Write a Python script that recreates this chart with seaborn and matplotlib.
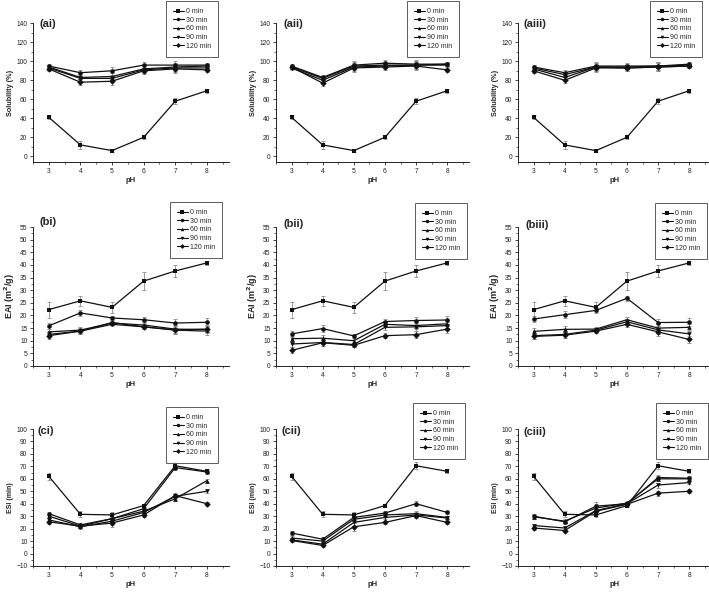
import matplotlib
matplotlib.use("Agg")
import matplotlib.pyplot as plt
import numpy as np
import pandas as pd
import seaborn as sns
from matplotlib.lines import Line2D
from matplotlib.ticker import MultipleLocator

sns.set_theme(style="ticks")
plt.rcParams['font.family'] = ['Liberation Sans', 'DejaVu Sans']

ph = [3, 4, 5, 6, 7, 8]
times = ["0 min", "30 min", "60 min", "90 min", "120 min"]
markers = ["s", "o", "^", "v", "D"]

# Solubility (%)
sol_0 = [41, 12, 6, 20, 58, 69]
sol_0_err = [2, 4, 1, 2, 3, 2]
sol_i = [sol_0,
         [95, 88, 90, 96, 96, 96],
         [94, 83, 84, 92, 94, 95],
         [93, 82, 82, 91, 93, 93],
         [92, 78, 79, 90, 92, 91]]
sol_ii = [sol_0,
          [95, 83, 96, 98, 97, 97],
          [94, 82, 95, 96, 96, 97],
          [93, 80, 94, 95, 96, 96],
          [94, 77, 93, 94, 95, 91]]
sol_iii = [sol_0,
           [94, 88, 95, 95, 95, 97],
           [93, 86, 94, 94, 95, 96],
           [92, 83, 94, 93, 94, 95],
           [90, 80, 93, 93, 94, 95]]
sol_err = [2, 3, 4, 3, 4, 2]

# EAI (m2/g)
eai_0 = [22.3, 25.8, 23.2, 33.6, 37.6, 40.8]
eai_0_err = [3.2, 2.0, 2.2, 3.5, 2.3, 0.8]
eai_i = [eai_0,
         [15.9, 21.0, 19.0, 18.3, 17.0, 17.3],
         [13.5, 14.2, 17.0, 16.2, 14.6, 14.4],
         [12.5, 13.8, 16.5, 15.5, 14.2, 13.8],
         [12.0, 13.8, 17.2, 15.5, 14.3, 14.6]]
eai_ii = [eai_0,
          [12.7, 14.8, 11.9, 17.6, 18.0, 18.2],
          [10.8, 11.0, 10.0, 16.5, 16.0, 16.7],
          [8.7, 9.3, 8.5, 15.3, 15.5, 16.0],
          [6.2, 9.2, 8.2, 12.0, 12.4, 14.6]]
eai_iii = [eai_0,
           [18.6, 20.3, 22.0, 26.8, 17.2, 17.3],
           [13.7, 14.5, 14.6, 18.3, 15.0, 15.3],
           [12.0, 12.5, 14.2, 17.5, 14.3, 12.7],
           [11.7, 12.2, 13.8, 16.5, 13.5, 10.5]]
eai_err = [1.2, 1.3, 0.8, 1.0, 1.5, 1.5]

# ESI (min)
esi_0 = [62, 31.5, 31, 38.5, 70.5, 66]
esi_0_err = [3, 2.5, 2, 1.5, 3, 1.5]
esi_i = [esi_0,
         [32, 23, 28, 36, 69, 65.5],
         [30, 22, 28, 34, 44, 58.5],
         [27, 21.5, 26, 33, 46, 50],
         [25.5, 22, 24.5, 31, 46.5, 40]]
esi_ii = [esi_0,
          [16.5, 11.5, 29, 32.5, 40, 33],
          [12.5, 10, 27.5, 31, 32, 29],
          [11, 7.5, 25, 29, 31, 28.5],
          [10.5, 6.5, 21.5, 25, 30.5, 25]]
esi_iii = [esi_0,
           [30, 25.5, 38, 40, 61, 60.5],
           [29.5, 26, 36.5, 40.5, 60, 60],
           [22.5, 20.5, 34.5, 40, 55, 57],
           [20.5, 18.5, 34, 39.5, 48.5, 50]]
esi_err = [1.5, 1.5, 3, 1.5, 2, 1.5]

W, H = 709, 592
fig = plt.figure(figsize=(W / 100, H / 100), dpi=100)

col_left = [33, 276, 518]
col_width = [196, 193, 193]
rows = [(23.3, 162), (227, 366), (429, 566)]

panels = [
    [("(ai)", sol_i), ("(aii)", sol_ii), ("(aiii)", sol_iii)],
    [("(bi)", eai_i), ("(bii)", eai_ii), ("(biii)", eai_iii)],
    [("(ci)", esi_i), ("(cii)", esi_ii), ("(ciii)", esi_iii)],
]
zero_errs = [sol_0_err, eai_0_err, esi_0_err]
other_errs = [sol_err, eai_err, esi_err]
ylabels = ["Solubility (%)", "EAI (m$\\mathbf{^2}$/g)", "ESI (min)"]
ylabel_sizes = [5.2, 6.5, 5.0]
ylims = [(-6, 140), (0, 55), (-10, 100)]
ymajor = [20, 5, 10]
yminor = [10, 2.5, 5]

label_pos = [[(40, 19), (283, 19), (524, 19)],
             [(40, 217), (283, 219), (525, 220)],
             [(38, 426), (282, 426), (524, 427)]]
legend_pos = [[(218, 1), (459, 1), (702, 1)],
              [(222, 202), (467, 203), (707, 203)],
              [(218, 407), (465, 403), (708, 403)]]

line_color = "#111111"
err_color = "#8c8c8c"

for r in range(3):
    top, bot = rows[r]
    for c in range(3):
        ax = fig.add_axes([col_left[c] / W, 1 - bot / H, col_width[c] / W, (bot - top) / H])
        lab, series = panels[r][c]
        recs = []
        for t, vals in zip(times, series):
            for x, v in zip(ph, vals):
                recs.append({"pH": x, "val": v, "time": t})
        df = pd.DataFrame(recs)
        for k, (t, vals) in enumerate(zip(times, series)):
            err = zero_errs[r] if k == 0 else other_errs[r]
            ax.errorbar(ph, vals, yerr=err, fmt="none", ecolor=err_color,
                        elinewidth=0.6, capsize=1.5, capthick=0.6, zorder=1)
        sns.lineplot(data=df, x="pH", y="val", hue="time", style="time",
                     hue_order=times, style_order=times,
                     palette=[line_color] * 5, markers=markers, dashes=False,
                     markersize=3.3, markeredgewidth=0, linewidth=0.9,
                     legend=False, ax=ax, zorder=3)
        ax.set_xlim(2.5, 8.7)
        ax.set_ylim(*ylims[r])
        ax.xaxis.set_major_locator(MultipleLocator(1))
        ax.xaxis.set_minor_locator(MultipleLocator(0.5))
        ax.yaxis.set_major_locator(MultipleLocator(ymajor[r]))
        ax.yaxis.set_minor_locator(MultipleLocator(yminor[r]))
        ax.tick_params(which="major", length=2.5, width=0.6, labelsize=4.8, pad=1.5, colors="#222222")
        ax.tick_params(which="minor", length=1.5, width=0.5)
        for s in ["top", "right"]:
            ax.spines[s].set_visible(False)
        for s in ["left", "bottom"]:
            ax.spines[s].set_linewidth(0.7)
            ax.spines[s].set_color("#222222")
        ax.set_xlabel("pH", fontsize=5.5, fontweight="bold", labelpad=2)
        ax.set_ylabel(ylabels[r], fontsize=ylabel_sizes[r], fontweight="bold", labelpad=2)
        lx, ly = label_pos[r][c]
        fig.text(lx / W, 1 - ly / H, lab, fontsize=8, fontweight="bold", va="top", ha="left")
        handles = [Line2D([0], [0], color=line_color, marker=m, markersize=2.5,
                          markeredgewidth=0, linewidth=0.8) for m in markers]
        gx, gy = legend_pos[r][c]
        leg = fig.legend(handles, times, loc="upper right",
                         bbox_to_anchor=(gx / W, 1 - gy / H), bbox_transform=fig.transFigure,
                         fontsize=5, frameon=True, fancybox=False, borderpad=1.0,
                         labelspacing=0.25, handlelength=1.6, handletextpad=0.3,
                         borderaxespad=0)
        leg.get_frame().set_edgecolor("#333333")
        leg.get_frame().set_linewidth(0.7)

fig.savefig("out.png", dpi=100)
